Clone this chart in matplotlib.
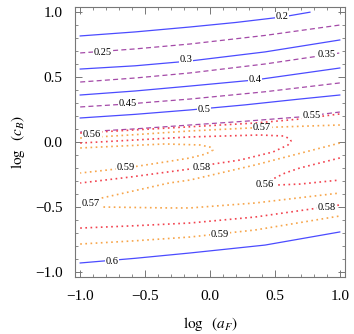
import matplotlib.pyplot as plt
from matplotlib.ticker import MultipleLocator

plt.rcParams["font.family"] = ["Liberation Serif", "DejaVu Serif"]
plt.rcParams["mathtext.fontset"] = "stix"

# contour lines, x = log(aF), y = log(cB)
c020_x = [-1.0, -0.577, -0.154, 0.2, 0.555, 0.77]
c020_y = [0.817, 0.848, 0.886, 0.921, 0.963, 1.0]
c025_x = [-1.0, -0.577, -0.154, 0.424, 1.0]
c025_y = [0.686, 0.717, 0.755, 0.821, 0.901]
c030_x = [-1.0, -0.577, -0.154, 0.424, 1.0]
c030_y = [0.562, 0.587, 0.624, 0.694, 0.786]
c035_x = [-1.0, -0.577, -0.154, 0.424, 1.0]
c035_y = [0.462, 0.493, 0.532, 0.601, 0.686]
c040_x = [-1.0, -0.577, -0.154, 0.347, 1.0]
c040_y = [0.362, 0.393, 0.431, 0.478, 0.570]
c045_x = [-1.0, -0.632, -0.154, 0.424, 1.0]
c045_y = [0.270, 0.293, 0.331, 0.387, 0.455]
c050_x = [-1.0, -0.577, -0.154, 0.27, 0.693, 1.0]
c050_y = [0.185, 0.213, 0.247, 0.286, 0.331, 0.362]
c055_x = [-1.0, -0.577, -0.154, 0.27, 0.693, 1.0]
c055_y = [0.077, 0.101, 0.131, 0.160, 0.193, 0.231]

c056a_x = [-1.0, -0.316, 0.347, 0.693, 1.0]
c056a_y = [0.069, 0.108, 0.146, 0.177, 0.216]
c057a_x = [-1.0, -0.616, -0.154, 0.308, 1.0]
c057a_y = [0.031, 0.054, 0.085, 0.108, 0.131]
c058a_x = [-1.0, -0.154, 0.385, 0.570, 0.616, 0.624, 0.601, 0.485, 0.231, 0.023,
           -0.154, -0.616, -1.0]
c058a_y = [-0.008, 0.039, 0.054, 0.046, 0.023, 0.008, -0.023, -0.077, -0.139,
           -0.170, -0.208, -0.270, -0.316]
c059a_x = [-1.0, -0.347, -0.077, 0.0, 0.023, -0.031, -0.154, -0.347, -0.647, -1.0]
c059a_y = [-0.046, -0.015, -0.023, -0.039, -0.062, -0.092, -0.123, -0.154, -0.200,
           -0.239]
c057b_x = [1.0, 0.347, -0.154, -0.316, -0.832, -0.963, -0.994, -0.963, -0.817,
           -0.316, -0.154, 0.347, 1.0]
c057b_y = [-0.008, -0.177, -0.293, -0.316, -0.431, -0.470, -0.485, -0.501, -0.501,
           -0.508, -0.508, -0.470, -0.393]
c056b_x = [1.0, 0.693, 0.578, 0.501, 0.401, 0.524, 0.693, 1.0]
c056b_y = [-0.123, -0.200, -0.239, -0.277, -0.316, -0.331, -0.324, -0.293]
c058b_x = [-1.0, -0.577, -0.154, 0.347, 1.0]
c058b_y = [-0.663, -0.645, -0.624, -0.578, -0.485]
c059b_x = [-1.0, -0.577, -0.154, 0.347, 1.0]
c059b_y = [-0.786, -0.761, -0.732, -0.678, -0.570]
c060_x = [-1.0, -0.577, -0.154, 0.424, 1.0]
c060_y = [-0.932, -0.896, -0.855, -0.794, -0.693]

# label text and where it sits on its line
label_text = ["0.2", "0.25", "0.3", "0.35", "0.4", "0.45", "0.5", "0.55",
              "0.56", "0.57", "0.58", "0.59", "0.57", "0.56", "0.58", "0.59", "0.6"]
label_x = [0.555, -0.824, -0.185, 0.901, 0.347, -0.632, -0.046, 0.786,
           -0.909, 0.401, -0.062, -0.647, -0.917, 0.424, 0.901, 0.077, -0.755]
label_y = [0.963, 0.690, 0.632, 0.673, 0.478, 0.293, 0.25, 0.208,
           0.054, 0.108, -0.193, -0.200, -0.470, -0.324, -0.501, -0.709, -0.917]

blue = "#4b4bff"
purple = "#a44aa8"
red = "#f2434f"
orange = "#f7a54a"

solid = dict(color=blue, lw=0.9, ls="-")
dashed = dict(color=purple, lw=0.9, ls=(0, (4, 2.6)))
reddot = dict(color=red, lw=1.2, ls=(0, (1, 2.1)))
orangedot = dict(color=orange, lw=1.2, ls=(0, (1, 2.1)))

lines = [
    (c020_x, c020_y, solid), (c025_x, c025_y, dashed),
    (c030_x, c030_y, solid), (c035_x, c035_y, dashed),
    (c040_x, c040_y, solid), (c045_x, c045_y, dashed),
    (c050_x, c050_y, solid), (c055_x, c055_y, dashed),
    (c056a_x, c056a_y, reddot), (c057a_x, c057a_y, orangedot),
    (c058a_x, c058a_y, reddot), (c059a_x, c059a_y, orangedot),
    (c057b_x, c057b_y, orangedot), (c056b_x, c056b_y, reddot),
    (c058b_x, c058b_y, reddot), (c059b_x, c059b_y, orangedot),
    (c060_x, c060_y, solid),
]

fig = plt.figure(figsize=(3.54, 3.34), dpi=100)
ax = fig.add_axes([75 / 354, 1 - 277 / 334, 270 / 354, 270 / 334])

for xs, ys, st in lines:
    ax.plot(xs, ys, **st)

for t, x, y in zip(label_text, label_x, label_y):
    ax.text(x, y, t, fontsize=7.5, ha="center", va="center",
            bbox=dict(facecolor="white", edgecolor="none", pad=0.6))

ax.set_xlim(-1.04, 1.04)
ax.set_ylim(-1.04, 1.04)

ax.xaxis.set_major_locator(MultipleLocator(0.5))
ax.yaxis.set_major_locator(MultipleLocator(0.5))
ax.xaxis.set_minor_locator(MultipleLocator(0.1))
ax.yaxis.set_minor_locator(MultipleLocator(0.1))
ax.tick_params(which="both", direction="in", top=True, right=True,
               color="#777777", labelsize=11)
ax.tick_params(axis="x", pad=9)
ax.tick_params(axis="y", pad=9)
ax.tick_params(which="major", length=5, width=0.7)
ax.tick_params(which="minor", length=2.5, width=0.6)
ax.xaxis.set_major_formatter(lambda v, p: f"{v:.1f}".replace("-", "\u2212"))
ax.yaxis.set_major_formatter(lambda v, p: f"{v:.1f}".replace("-", "\u2212"))
for s in ax.spines.values():
    s.set_color("#777777")
    s.set_linewidth(0.8)

ax.set_xlabel(r"$\log\ \ (a_F)$", fontsize=11, labelpad=9)
ax.set_ylabel(r"$\log\ \ (c_B)$", fontsize=11, labelpad=6)

fig.savefig("out.png", dpi=100)
